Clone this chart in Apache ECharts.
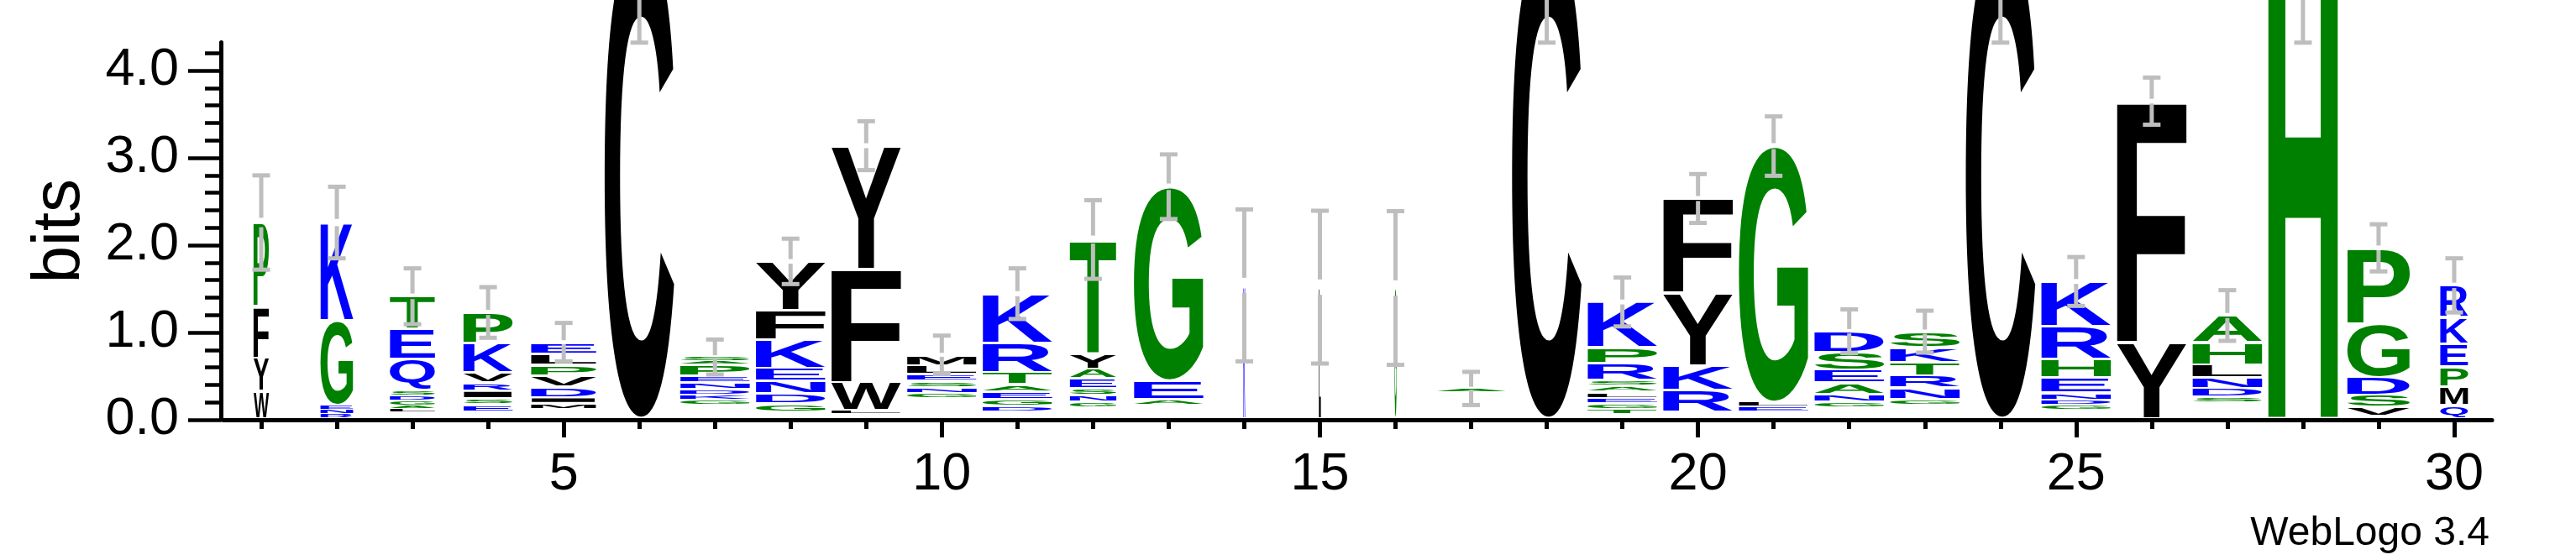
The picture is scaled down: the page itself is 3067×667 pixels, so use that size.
<!DOCTYPE html>
<html>
<head>
<meta charset="utf-8">
<script src="https://cdn.jsdelivr.net/npm/echarts@6/dist/echarts.min.js"></script>
<style>
html,body{margin:0;padding:0;background:#ffffff;}
#chart{width:3067px;height:667px;}
</style>
</head>
<body>
<div id="chart"></div>
<script>
// ---------------- data ----------------
const positions = [1,2,3,4,5,6,7,8,9,10,11,12,13,14,15,16,17,18,19,20,21,22,23,24,25,26,27,28,29,30];

// residues of each stack, listed from top to bottom
const stackLetters = [
  'PFYW', 'KGENR', 'TEQSDGALIVM', 'PKVRISEDGA', 'ELPVDIMKSTG',
  'C', 'SAPENDKGRQTLVI', 'YFKENDGSQA', 'YFWLHI', 'MLESNGKRDTAQPVI',
  'KRTAEGDSNQ', 'TYAESNGKRDVF', 'GEASDNKTQ', 'K', 'L',
  'G', 'ASGTPEDKNRQVL', 'C', 'KPRSALEGTDN', 'FYKRHNE',
  'GLESAN', 'DSEANGKTRQP', 'SKTRNGDEAQPH', 'C', 'KRHENDGSQTA',
  'FY', 'AHLNDSGEKRTQV', 'H', 'PGDSVA', 'RKEPMQ'
];

// heights (bits) of each residue, same order as stackLetters
const stackHeights = [
  [0.96, 0.59, 0.38, 0.31],
  [1.12, 0.97, 0.05, 0.05, 0.05],
  [0.37, 0.35, 0.35, 0.07, 0.06, 0.05, 0.04, 0.03, 0.025, 0.025, 0.025],
  [0.345, 0.34, 0.12, 0.09, 0.09, 0.07, 0.08, 0.025, 0.025, 0.025],
  [0.13, 0.13, 0.12, 0.13, 0.12, 0.07, 0.07, 0.025, 0.025, 0.025, 0.025],
  [5.5],
  [0.05, 0.03, 0.13, 0.08, 0.08, 0.06, 0.06, 0.06, 0.025, 0.025, 0.025, 0.025, 0.025, 0.025],
  [0.56, 0.34, 0.32, 0.15, 0.14, 0.12, 0.09, 0.025, 0.025, 0.025],
  [1.41, 1.30, 0.32, 0.04, 0.025, 0.025],
  [0.12, 0.10, 0.08, 0.07, 0.07, 0.06, 0.025, 0.025, 0.025, 0.025, 0.025, 0.025, 0.025, 0.025, 0.025],
  [0.56, 0.34, 0.14, 0.08, 0.09, 0.08, 0.06, 0.025, 0.025, 0.025],
  [1.30, 0.18, 0.11, 0.11, 0.08, 0.08, 0.06, 0.025, 0.025, 0.025, 0.025, 0.025],
  [2.22, 0.21, 0.07, 0.025, 0.025, 0.025, 0.025, 0.025, 0.025],
  [1.52],
  [1.50],
  [1.49],
  [0.04, 0.025, 0.025, 0.025, 0.025, 0.025, 0.025, 0.025, 0.025, 0.025, 0.025, 0.025, 0.025],
  [5.5],
  [0.52, 0.18, 0.19, 0.07, 0.07, 0.07, 0.06, 0.07, 0.05, 0.025, 0.025],
  [1.08, 0.83, 0.28, 0.25, 0.025, 0.025, 0.025],
  [2.93, 0.05, 0.06, 0.025, 0.025, 0.025],
  [0.24, 0.20, 0.15, 0.13, 0.09, 0.06, 0.025, 0.025, 0.025, 0.025, 0.025],
  [0.18, 0.17, 0.15, 0.14, 0.13, 0.07, 0.025, 0.025, 0.025, 0.025, 0.025, 0.025],
  [5.5],
  [0.51, 0.375, 0.21, 0.18, 0.08, 0.06, 0.05, 0.025, 0.025, 0.025, 0.025],
  [2.76, 0.87],
  [0.31, 0.25, 0.145, 0.125, 0.10, 0.07, 0.025, 0.025, 0.025, 0.025, 0.025, 0.025, 0.025],
  [5.4],
  [0.865, 0.615, 0.21, 0.135, 0.10, 0.025],
  [0.365, 0.30, 0.26, 0.23, 0.22, 0.145]
];

// relative stack width (fraction of non-gap sequences)
const stackWidths = [0.22, 0.47, 0.65, 0.71, 0.94, 1, 1, 1, 1, 1, 1, 0.67, 1, 0.028, 0.028,
                     0.028, 1, 1, 1, 1, 1, 1, 1, 1, 1, 1, 1, 1, 0.90, 0.40];

// error bar half-lengths (bits)
const errorBars = [0.54, 0.41, 0.32, 0.29, 0.22, 1.2, 0.20, 0.26, 0.28, 0.22,
                   0.29, 0.45, 0.37, 0.87, 0.875, 0.88, 0.19, 1.2, 0.28, 0.28,
                   0.34, 0.25, 0.24, 1.2, 0.28, 0.27, 0.29, 1.1, 0.27, 0.31];

const yTickValues = [0, 1, 2, 3, 4];
const yMinorTickValues = [0.2, 0.4, 0.6, 0.8, 1.2, 1.4, 1.6, 1.8, 2.2, 2.4, 2.6, 2.8, 3.2, 3.4, 3.6, 3.8, 4.2];
const xTickValues = [1,2,3,4,5,6,7,8,9,10,11,12,13,14,15,16,17,18,19,20,21,22,23,24,25,26,27,28,29,30];
const xLabelValues = [5, 10, 15, 20, 25, 30];
const yMax = 4.3219;

const residueGroups = [
  { color: '#0000ff', residues: 'RKDENQ' },
  { color: '#008000', residues: 'SGHTAP' },
  { color: '#000000', residues: 'YVMCLFIW' }
];

// ---------------- build ----------------
function colorOf(ch) {
  for (const g of residueGroups) if (g.residues.indexOf(ch) >= 0) return g.color;
  return '#000000';
}

const glyphs = [];
const stackTops = [];
positions.forEach(function (p, i) {
  const letters = stackLetters[i];
  const hs = stackHeights[i];
  let base = 0;
  for (let k = letters.length - 1; k >= 0; k--) {
    glyphs.push({ pos: p, y0: base, y1: base + hs[k], ch: letters[k], w: stackWidths[i] });
    base += hs[k];
  }
  stackTops.push(base);
});

const FULL_W = 0.92;   // stack width in position units
const LIFT = 2;        // letters sit on top of the axis line
const MIN_PX = 2.8;
const GLYPH_FONT = 'bold 200px "Liberation Sans", Arial, sans-serif';
const AXIS_FONT = '"Liberation Sans", Arial, Helvetica, sans-serif';

const mctx = document.createElement('canvas').getContext('2d');
const metricCache = {};
function metrics(ch) {
  if (!metricCache[ch]) {
    mctx.font = GLYPH_FONT;
    mctx.textBaseline = 'middle';
    mctx.textAlign = 'left';
    const m = mctx.measureText(ch);
    metricCache[ch] = {
      l: m.actualBoundingBoxLeft, r: m.actualBoundingBoxRight,
      a: m.actualBoundingBoxAscent, d: m.actualBoundingBoxDescent
    };
  }
  return metricCache[ch];
}

function renderLetter(params, api) {
  const g = glyphs[params.dataIndex];
  const half = api.value(3) * FULL_W / 2;
  const pA = api.coord([api.value(0) - half, api.value(1)]);
  const pB = api.coord([api.value(0) + half, api.value(2)]);
  let left = pA[0], right = pB[0];
  let bottom = pA[1] - LIFT, top = pB[1] - LIFT;
  const h = bottom - top;
  if (h < MIN_PX) return;
  const pad = Math.min(1.5, h * 0.2);
  top += pad; bottom -= pad;
  const m = metrics(g.ch);
  const sx = (right - left) / (m.l + m.r);
  const sy = (bottom - top) / (m.a + m.d);
  return {
    type: 'text',
    x: left + m.l * sx,
    y: top + m.a * sy,
    scaleX: sx,
    scaleY: sy,
    silent: true,
    style: {
      text: g.ch, x: 0, y: 0, font: GLYPH_FONT, fill: colorOf(g.ch),
      align: 'left', verticalAlign: 'middle',
      textAlign: 'left', textVerticalAlign: 'middle'
    }
  };
}

function renderError(params, api) {
  const x = api.coord([api.value(0), 0])[0];
  const yc = api.coord([api.value(0), api.value(1)])[1] - LIFT;
  const e = api.size([0, api.value(2)])[1];
  const gap = e * 0.1;
  const cap = 10.5;
  const st = { stroke: '#bebebe', lineWidth: 5 };
  return {
    type: 'group',
    children: [
      { type: 'line', shape: { x1: x, y1: yc - e, x2: x, y2: yc - gap }, style: st },
      { type: 'line', shape: { x1: x, y1: yc + gap, x2: x, y2: yc + e }, style: st },
      { type: 'line', shape: { x1: x - cap, y1: yc - e, x2: x + cap, y2: yc - e }, style: st },
      { type: 'line', shape: { x1: x - cap, y1: yc + e, x2: x + cap, y2: yc + e }, style: st }
    ]
  };
}

const gridBox = { left: 266, right: 100, top: 50.5, bottom: 167 };

const option = {
  animation: false,
  backgroundColor: '#ffffff',
  grid: [Object.assign({}, gridBox), Object.assign({}, gridBox)],
  xAxis: [
    {
      type: 'value', gridIndex: 0, min: 0.5, max: 30.5, position: 'bottom',
      axisLine: { show: true, onZero: false, lineStyle: { color: '#000', width: 5 } },
      axisTick: { show: true, customValues: xTickValues, length: 11, lineStyle: { color: '#000', width: 5 } },
      axisLabel: { show: false },
      splitLine: { show: false }
    },
    {
      type: 'value', gridIndex: 1, min: 0.5, max: 30.5, position: 'bottom',
      axisLine: { show: false, onZero: false },
      axisTick: { show: true, customValues: xLabelValues, length: 21, lineStyle: { color: '#000', width: 5 } },
      axisLabel: { show: true, customValues: xLabelValues, fontSize: 63, fontFamily: AXIS_FONT, color: '#000', margin: 34 },
      splitLine: { show: false }
    }
  ],
  yAxis: [
    {
      type: 'value', gridIndex: 0, min: 0, max: yMax, offset: 3,
      axisLine: { show: true, onZero: false, lineStyle: { color: '#000', width: 5 } },
      axisTick: { show: true, customValues: yTickValues, length: 39, lineStyle: { color: '#000', width: 4.5 } },
      axisLabel: { show: true, customValues: yTickValues, formatter: function (v) { return Number(v).toFixed(1); },
                   fontSize: 63, fontFamily: AXIS_FONT, color: '#000', margin: 50 },
      splitLine: { show: false },
      name: 'bits', nameLocation: 'middle', nameRotate: 90, nameGap: 151,
      nameTextStyle: { fontSize: 80, fontFamily: AXIS_FONT, color: '#000' }
    },
    {
      type: 'value', gridIndex: 1, min: 0, max: yMax, offset: 3,
      axisLine: { show: false, onZero: false },
      axisTick: { show: true, customValues: yMinorTickValues, length: 19, lineStyle: { color: '#000', width: 4.5 } },
      axisLabel: { show: false },
      splitLine: { show: false }
    }
  ],
  graphic: [
    {
      type: 'text', x: 2964, y: 636, silent: true,
      style: { text: 'WebLogo 3.4', font: '48px ' + AXIS_FONT, fill: '#000',
               align: 'right', verticalAlign: 'middle', textAlign: 'right', textVerticalAlign: 'middle' }
    }
  ],
  series: [
    {
      type: 'custom', name: 'letters', xAxisIndex: 0, yAxisIndex: 0, clip: false,
      renderItem: renderLetter,
      encode: { x: 0, y: [1, 2] },
      data: glyphs.map(function (g) { return [g.pos, g.y0, g.y1, g.w]; })
    },
    {
      type: 'custom', name: 'error', xAxisIndex: 0, yAxisIndex: 0, clip: false, z: 5,
      renderItem: renderError,
      encode: { x: 0, y: 1 },
      data: positions.map(function (p, i) { return [p, stackTops[i], errorBars[i]]; })
    }
  ]
};

const chart = echarts.init(document.getElementById('chart'), null, { renderer: 'canvas' });
chart.setOption(option);
</script>
</body>
</html>
